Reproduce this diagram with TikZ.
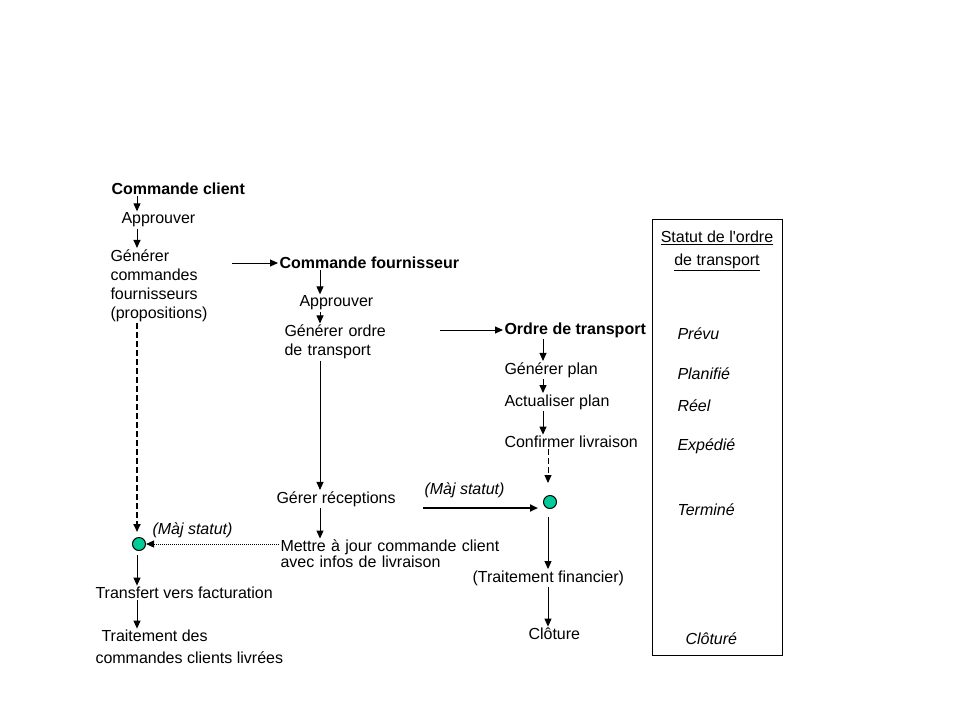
\documentclass[tikz,border=0pt]{standalone}
\usepackage{fontspec}
\setmainfont{Liberation Sans}
\usepackage{tikz}
\usetikzlibrary{arrows.meta}
\definecolor{etat}{RGB}{0,204,153}

\begin{document}
\begin{tikzpicture}[x=1pt,y=-1pt,line width=1pt,
  txt/.style={anchor=west,inner sep=1pt,font=\fontsize{16}{19}\selectfont,align=left},
  titre/.style={txt,font=\fontsize{16}{19}\selectfont\bfseries},
  statut/.style={txt,font=\fontsize{16}{19}\selectfont\itshape},
  fl/.style={-{Triangle[length=8pt,width=7pt]}},
  tirets/.style={dash pattern=on 6pt off 3pt},
  etape/.style={circle,draw=black,fill=etat,minimum size=13pt,inner sep=0pt}]
\useasboundingbox (0,0) rectangle (960,720);

% commande client
\node[titre] (cc) at (110,189) {Commande client};
\node[txt] (ap1) at (120,220) {Approuver};
\node[txt,text width=125pt] (gcf) at (109,285.5) {Générer\\commandes\\fournisseurs\\(propositions)};
\node[etape] (e1) at (139,544) {};
\node[statut] (mj1) at (151,530) {(Màj statut)};
\node[txt] (tf) at (94,593) {Transfert vers facturation};
\node[txt] (tc1) at (100,636) {Traitement des};
\node[txt] (tc2) at (94,658) {commandes clients livrées};
\draw[fl] (cc.south -| 137,0) -- (ap1.north -| 137,0);
\draw[fl] (ap1.south -| 137,0) -- (gcf.north -| 137,0);
\draw[fl,tirets,line width=2pt] (gcf.south -| 137,0) -- ([yshift=5pt]e1.north -| 137,0);
\draw[fl] ([yshift=-4pt]e1.south -| 137,0) -- (tf.north -| 137,0);
\draw[fl] (tf.south -| 137,0) -- (tc1.north -| 137,0);

% commande fournisseur
\node[titre] (cf) at (278,263) {Commande fournisseur};
\node[txt] (ap2) at (298,303) {Approuver};
\node[txt,text width=130pt] (got) at (283,342) {Générer ordre\\de transport};
\node[txt] (gr) at (275,499) {Gérer réceptions};
\node[txt,text width=230pt,font=\fontsize{16}{16}\selectfont] (maj) at (279,554) {Mettre à jour commande client\\avec infos de livraison};
\draw[fl] (232,0 |- cf.west) -- (cf.west);
\draw[fl] (cf.south -| 320,0) -- (ap2.north -| 320,0);
\draw[fl] (ap2.south -| 320,0) -- (got.north -| 320,0);
\draw[fl] (got.south -| 320,0) -- (gr.north -| 320,0);
\draw[fl] (gr.south -| 320,0) -- (maj.north -| 320,0);
\draw[fl,densely dotted] (maj.west |- e1) -- (e1.east);

% ordre de transport
\node[titre] (ot) at (503,330) {Ordre de transport};
\node[txt] (gp) at (503,370) {Générer plan};
\node[txt] (ap) at (503,402) {Actualiser plan};
\node[txt] (cl) at (503,442) {Confirmer livraison};
\node[etape] (e2) at (550,502) {};
\node[statut] (mj2) at (423,490) {(Màj statut)};
\node[txt] (trf) at (471,578) {(Traitement financier)};
\node[txt] (clo) at (527,634) {Clôture};
\draw[fl] (440,0 |- ot.west) -- (ot.west);
\draw[fl] (ot.south -| 543,0) -- (gp.north -| 543,0);
\draw[fl] (gp.south -| 543,0) -- (ap.north -| 543,0);
\draw[fl] (ap.south -| 543,0) -- (cl.north -| 543,0);
\draw[fl,tirets] (cl.south -| 548,0) -- ([yshift=12pt]e2.north -| 548,0);
\draw[fl,line width=2pt] (mj2.south west |- 0,508) -- ([xshift=-5pt]e2.west |- 0,508);
\draw[fl] ([yshift=-8pt]e2.south -| 548,0) -- (trf.north -| 548,0);
\draw[fl] (trf.south -| 548,0) -- (clo.north -| 548,0);

% statut
\node[draw,minimum width=130pt,minimum height=436pt,anchor=north west,inner sep=0pt] (box) at (652,219) {};
\node[txt,anchor=center] (st1) at (717,238) {\underline{Statut de l\textquotesingle ordre}};
\node[txt,anchor=center] (st2) at (717,262) {\underline{de transport}};
\node[statut] (s1) at (676,334) {Prévu};
\node[statut] (s2) at (676,374) {Planifié};
\node[statut] (s3) at (676,406) {Réel};
\node[statut] (s4) at (676,446) {Expédié};
\node[statut] (s5) at (676,510) {Terminé};
\node[statut] (s6) at (684,639) {Clôturé};
\end{tikzpicture}
\end{document}
